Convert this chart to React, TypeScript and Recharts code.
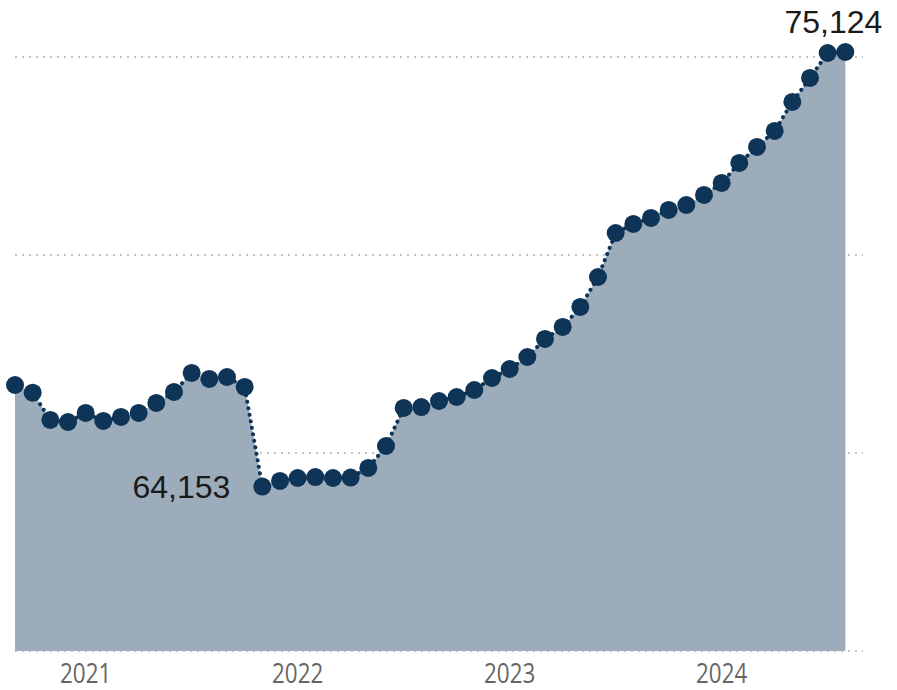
import { AreaChart, Area, XAxis, YAxis, CartesianGrid, LabelList } from "recharts"

// Monthly series, Sep 2020 .. Aug 2024
const months = [
  "2020-09", "2020-10", "2020-11", "2020-12",
  "2021-01", "2021-02", "2021-03", "2021-04", "2021-05", "2021-06",
  "2021-07", "2021-08", "2021-09", "2021-10", "2021-11", "2021-12",
  "2022-01", "2022-02", "2022-03", "2022-04", "2022-05", "2022-06",
  "2022-07", "2022-08", "2022-09", "2022-10", "2022-11", "2022-12",
  "2023-01", "2023-02", "2023-03", "2023-04", "2023-05", "2023-06",
  "2023-07", "2023-08", "2023-09", "2023-10", "2023-11", "2023-12",
  "2024-01", "2024-02", "2024-03", "2024-04", "2024-05", "2024-06",
  "2024-07", "2024-08",
]

const values = [
  66716, 66522, 65833, 65782,
  66010, 65808, 65909, 66010, 66262, 66540,
  67020, 66868, 66918, 66666, 64153, 64293,
  64368, 64393, 64368, 64380, 64621, 65176,
  66136, 66160, 66312, 66413, 66590, 66893,
  67120, 67423, 67878, 68181, 68686, 69443,
  70554, 70782, 70933, 71135, 71261, 71514,
  71817, 72322, 72726, 73130, 73862, 74468,
  75099, 75124,
]

const yearTicks = ["2021-01", "2022-01", "2023-01", "2024-01"]
const valueTicks = [60000, 65000, 70000, 75000]

const data = months.map((m, i) => ({ i, month: m, value: values[i] }))

const minIndex = values.indexOf(Math.min(...values))
const maxIndex = values.lastIndexOf(Math.max(...values))

const DOT = "#0E3457"
const FILL = "#9DACBB"

const YearTick = (props: any) => {
  const { x, y, payload } = props
  return (
    <g transform={`translate(${x},${y})`}>
      <text
        transform="scale(0.8,1)"
        textAnchor="middle"
        y={32}
        fontFamily="'Open Sans', sans-serif"
        fontSize={28}
        fill="#666666"
      >
        {months[payload.value].slice(0, 4)}
      </text>
    </g>
  )
}

const renderLabel = (props: any) => {
  const { x, y, index, value } = props
  const text = Number(value).toLocaleString("en-US")
  const common = {
    fontFamily: "'Liberation Sans', Arial, sans-serif",
    fontSize: 32,
    fill: "#1a1a1a",
  }
  if (index === minIndex) {
    return (
      <text x={x - 32} y={y + 11} textAnchor="end" {...common}>
        {text}
      </text>
    )
  }
  if (index === maxIndex) {
    return (
      <text x={x - 12} y={y - 19} textAnchor="middle" {...common}>
        {text}
      </text>
    )
  }
  return null
}

export default function App() {
  return (
    <div style={{ position: "absolute", left: 0, top: 0, background: "#fff" }}>
      <AreaChart
        width={897}
        height={690}
        data={data}
        margin={{ top: 52, right: 34, bottom: 0, left: 15 }}
      >
        <CartesianGrid
          vertical={false}
          horizontalValues={valueTicks}
          stroke="#C4C4C4"
          strokeWidth={2}
          strokeDasharray="2 5"
        />
        <XAxis
          dataKey="i"
          type="number"
          domain={[0, 48]}
          ticks={yearTicks.map((m) => months.indexOf(m))}
          tick={<YearTick />}
          tickLine={false}
          axisLine={false}
          tickSize={0}
          tickMargin={0}
          height={39}
          interval={0}
        />
        <YAxis hide domain={[60000, "dataMax"]} ticks={valueTicks} />
        <Area
          type="linear"
          dataKey="value"
          fill={FILL}
          fillOpacity={1}
          stroke={DOT}
          strokeWidth={4}
          strokeDasharray="0.1 6.5"
          strokeLinecap="round"
          dot={{ r: 9, fill: DOT, stroke: "none", strokeWidth: 0, strokeDasharray: "" }}
          activeDot={false}
          isAnimationActive={false}
        >
          <LabelList dataKey="value" content={renderLabel} />
        </Area>
      </AreaChart>
    </div>
  )
}
